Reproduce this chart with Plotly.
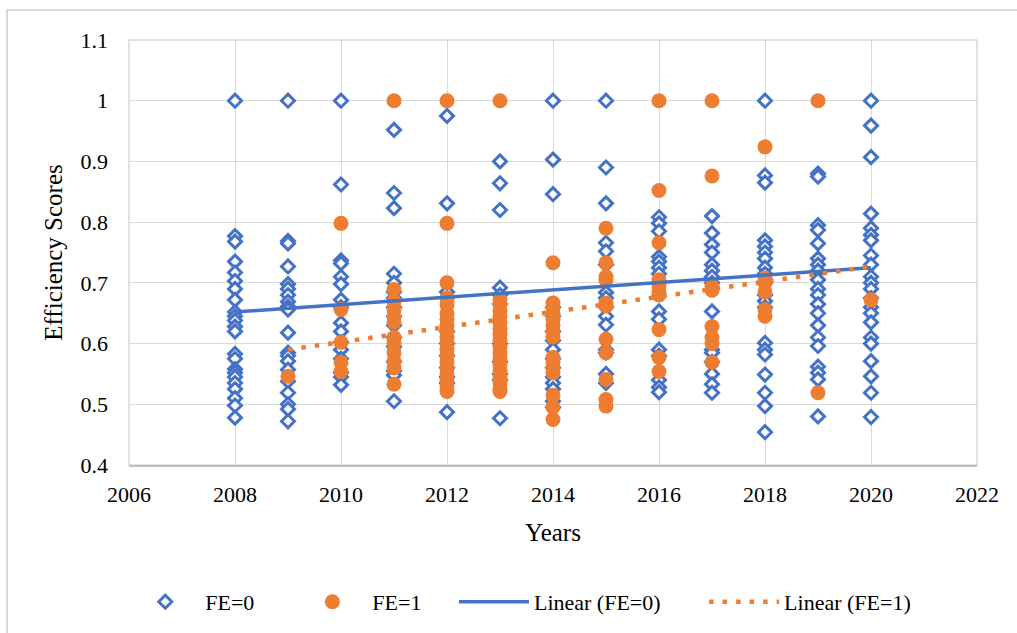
import plotly.graph_objects as go

# ---------------- data ----------------
fe0_2008 = [1.0, 0.777, 0.768, 0.735, 0.717, 0.703, 0.69, 0.672, 0.652, 0.645, 0.638, 0.628,
            0.62, 0.583, 0.575, 0.558, 0.552, 0.545, 0.535, 0.525, 0.51, 0.498, 0.478]
fe0_2009 = [1.0, 0.769, 0.765, 0.727, 0.698, 0.69, 0.68, 0.669, 0.661, 0.656, 0.618, 0.585,
            0.58, 0.571, 0.557, 0.538, 0.519, 0.5, 0.492, 0.472]
fe0_2010 = [1.0, 0.862, 0.737, 0.732, 0.71, 0.698, 0.672, 0.66, 0.634, 0.62, 0.602, 0.59,
            0.575, 0.552, 0.545, 0.532]
fe0_2011 = [0.952, 0.848, 0.823, 0.715, 0.7, 0.685, 0.675, 0.66, 0.645, 0.63, 0.61, 0.595,
            0.57, 0.555, 0.548, 0.505]
fe0_2012 = [0.975, 0.831, 0.685, 0.675, 0.62, 0.6, 0.58, 0.56, 0.545, 0.535, 0.487]
fe0_2013 = [0.9, 0.864, 0.82, 0.692, 0.68, 0.665, 0.6, 0.57, 0.55, 0.54, 0.477]
fe0_2014 = [1.0, 0.903, 0.846, 0.66, 0.645, 0.62, 0.605, 0.59, 0.575, 0.56, 0.545, 0.535,
            0.525, 0.505, 0.495]
fe0_2015 = [1.0, 0.89, 0.831, 0.766, 0.752, 0.73, 0.684, 0.675, 0.66, 0.645, 0.631, 0.59,
            0.585, 0.55, 0.535]
fe0_2016 = [0.808, 0.798, 0.785, 0.743, 0.735, 0.725, 0.715, 0.7, 0.653, 0.64, 0.59, 0.58,
            0.54, 0.528, 0.52]
fe0_2017 = [0.81, 0.782, 0.763, 0.75, 0.73, 0.72, 0.71, 0.7, 0.653, 0.59, 0.585, 0.57,
            0.55, 0.533, 0.519]
fe0_2018 = [1.0, 0.877, 0.865, 0.77, 0.76, 0.75, 0.74, 0.725, 0.715, 0.7, 0.68, 0.67, 0.66,
            0.601, 0.59, 0.582, 0.549, 0.519, 0.497, 0.454]
fe0_2019 = [0.88, 0.875, 0.795, 0.787, 0.765, 0.74, 0.73, 0.72, 0.705, 0.69, 0.68, 0.665,
            0.65, 0.63, 0.61, 0.596, 0.562, 0.552, 0.541, 0.48]
fe0_2020 = [1.0, 0.959, 0.907, 0.814, 0.79, 0.779, 0.77, 0.745, 0.73, 0.71, 0.7, 0.69, 0.675,
            0.66, 0.65, 0.635, 0.61, 0.6, 0.571, 0.546, 0.519, 0.479]

fe1_2009 = [0.546]
fe1_2010 = [0.798, 0.656, 0.602, 0.569, 0.554]
fe1_2011 = [1.0, 0.689, 0.67, 0.656, 0.645, 0.635, 0.61, 0.6, 0.585, 0.571, 0.56, 0.533]
fe1_2012 = [1.0, 0.798, 0.7, 0.675, 0.664, 0.65, 0.64, 0.63, 0.62, 0.61, 0.6, 0.59, 0.58,
            0.57, 0.56, 0.55, 0.54, 0.53, 0.521]
fe1_2013 = [1.0, 0.672, 0.665, 0.655, 0.645, 0.635, 0.625, 0.615, 0.605, 0.595, 0.585, 0.575,
            0.565, 0.555, 0.545, 0.535, 0.525, 0.521]
fe1_2014 = [0.733, 0.667, 0.66, 0.65, 0.64, 0.63, 0.62, 0.611, 0.577, 0.57, 0.56, 0.552,
            0.515, 0.495, 0.475]
fe1_2015 = [0.79, 0.733, 0.71, 0.705, 0.667, 0.662, 0.607, 0.585, 0.541, 0.508, 0.497]
fe1_2016 = [1.0, 0.852, 0.766, 0.705, 0.695, 0.685, 0.68, 0.623, 0.577, 0.554]
fe1_2017 = [1.0, 0.876, 0.694, 0.688, 0.628, 0.61, 0.6, 0.569]
fe1_2018 = [0.924, 0.708, 0.7, 0.685, 0.656, 0.645]
fe1_2019 = [1.0, 0.519]
fe1_2020 = [0.672]

trend_fe0_years = [2008, 2020]
trend_fe0_vals = [0.652, 0.725]
trend_fe1_years = [2009, 2020]
trend_fe1_vals = [0.590, 0.727]

x_ticks = [2006, 2008, 2010, 2012, 2014, 2016, 2018, 2020, 2022]
series_names = ["FE=0", "FE=1", "Linear (FE=0)", "Linear (FE=1)"]

fe0_by_year = {2008: fe0_2008, 2009: fe0_2009, 2010: fe0_2010, 2011: fe0_2011, 2012: fe0_2012,
               2013: fe0_2013, 2014: fe0_2014, 2015: fe0_2015, 2016: fe0_2016, 2017: fe0_2017,
               2018: fe0_2018, 2019: fe0_2019, 2020: fe0_2020}
fe1_by_year = {2009: fe1_2009, 2010: fe1_2010, 2011: fe1_2011, 2012: fe1_2012, 2013: fe1_2013,
               2014: fe1_2014, 2015: fe1_2015, 2016: fe1_2016, 2017: fe1_2017, 2018: fe1_2018,
               2019: fe1_2019, 2020: fe1_2020}


def flatten(d):
    xs, ys = [], []
    for yr, vals in d.items():
        xs += [yr] * len(vals)
        ys += vals
    return xs, ys


fe0_x, fe0_y = flatten(fe0_by_year)
fe1_x, fe1_y = flatten(fe1_by_year)

BLUE = "#4472C4"
ORANGE = "#ED7D31"
GRID = "#d9d9d9"
FONT = "Liberation Serif, Times New Roman, serif"
NB = "\u00a0"
# trailing non-breaking spaces widen the gaps between legend entries (layout only)
legend_pad = [6, 5, 7, 0]
legend_names = [n + NB * p for n, p in zip(series_names, legend_pad)]

fig = go.Figure()
fig.add_trace(go.Scatter(
    x=fe0_x, y=fe0_y, mode="markers", name=legend_names[0],
    marker=dict(symbol="diamond", size=10, color="white",
                line=dict(color=BLUE, width=3)),
))
fig.add_trace(go.Scatter(
    x=fe1_x, y=fe1_y, mode="markers", name=legend_names[1],
    marker=dict(symbol="circle", size=15, color=ORANGE, line=dict(width=0)),
))
fig.add_trace(go.Scatter(
    x=trend_fe0_years, y=trend_fe0_vals, mode="lines", name=legend_names[2],
    line=dict(color=BLUE, width=3.5),
))
fig.add_trace(go.Scatter(
    x=trend_fe1_years, y=trend_fe1_vals, mode="lines", name=legend_names[3],
    line=dict(color=ORANGE, width=4.5, dash="4.5px,9px"),
))

fig.update_layout(
    width=1017, height=633,
    margin=dict(l=129, r=40, t=40, b=167),
    paper_bgcolor="white", plot_bgcolor="white",
    font=dict(family=FONT, size=22, color="black"),
    showlegend=True,
    legend=dict(orientation="h", x=0.462, xanchor="center", y=-0.319, yanchor="middle",
                font=dict(family=FONT, size=22, color="black"),
                itemwidth=70, bgcolor="rgba(0,0,0,0)"),
    xaxis=dict(range=[2006, 2022], tickvals=x_ticks, showgrid=True, gridcolor=GRID,
               gridwidth=1, zeroline=False, showline=True, linecolor="#bfbfbf", linewidth=1.5,
               ticks="", ticklabelstandoff=9, automargin=False,
               tickfont=dict(family=FONT, size=22, color="black"),
               title=dict(text="Years", font=dict(family=FONT, size=25, color="black"), standoff=17)),
    yaxis=dict(range=[0.4, 1.1], tick0=0.4, dtick=0.1, showgrid=True, gridcolor=GRID,
               gridwidth=1, zeroline=False, showline=False, ticks="", ticklabelstandoff=20,
               automargin=False,
               tickfont=dict(family=FONT, size=22, color="black"),
               title=dict(text="Efficiency Scores", font=dict(family=FONT, size=25, color="black"),
                          standoff=10)),
    shapes=[
        dict(type="rect", xref="paper", yref="paper", x0=0, x1=1, y0=0, y1=1,
             line=dict(color=GRID, width=1.5), layer="below"),
        dict(type="rect", xref="paper", yref="paper", x0=(7 - 129) / 848, x1=1.08,
             y0=-0.45, y1=(466 - 10) / 426, line=dict(color=GRID, width=2), layer="below"),
    ],
)

fig.write_html("out.html", config={"displayModeBar": False},
               post_script="document.body.style.margin='0';")
